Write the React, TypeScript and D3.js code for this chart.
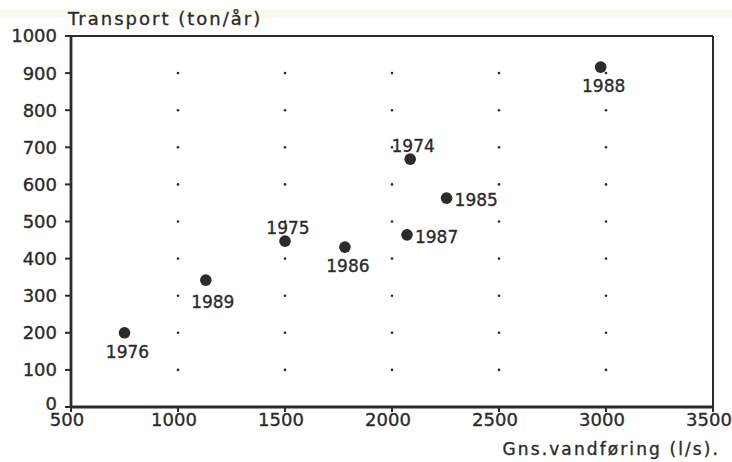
import React from "react";
import * as d3 from "d3";

// Annual mean discharge (l/s) vs. sediment transport (ton/år)
const years = ["1976", "1989", "1975", "1986", "1974", "1987", "1985", "1988"];
const discharge = [750, 1130, 1500, 1780, 2085, 2070, 2255, 2975];
const transport = [200, 342, 447, 431, 668, 464, 563, 916];
// label placement relative to the point
const labelPos = ["below", "belowRight", "above", "below", "above", "right", "right", "below"];

const xTicks = [500, 1000, 1500, 2000, 2500, 3000, 3500];
const yTicks = [0, 100, 200, 300, 400, 500, 600, 700, 800, 900, 1000];
const gridX = [1000, 1500, 2000, 2500, 3000];
const gridY = [100, 200, 300, 400, 500, 600, 700, 800, 900];

const W = 732;
const H = 462;
const ink = "#2b2b2b";
const font = "'DejaVu Sans', sans-serif";

export default function App() {
  const x = d3.scaleLinear().domain([500, 3500]).range([71, 713]);
  const y = d3.scaleLinear().domain([0, 1000]).range([407, 36]);

  const labelAttrs = (p: string, cx: number, cy: number) => {
    switch (p) {
      case "above":
        return { x: cx + 3, y: cy - 7, anchor: "middle" };
      case "below":
        return { x: cx + 3, y: cy + 25, anchor: "middle" };
      case "belowRight":
        return { x: cx + 7, y: cy + 28, anchor: "middle" };
      default:
        return { x: cx + 8, y: cy + 8, anchor: "start" };
    }
  };

  const textStyle = { fill: ink, stroke: ink, strokeWidth: 0.35 };

  return (
    <svg
      width={W}
      height={H}
      style={{ position: "absolute", left: 0, top: 0, background: "#fff" }}
      fontFamily={font}
    >
      <rect x={0} y={0} width={W} height={H} fill="#fff" />
      <rect x={0} y={9} width={W} height={9} fill="#fbfaf1" />

      {/* dotted reference grid */}
      {gridX.map((gx) =>
        gridY.map((gy) => (
          <circle key={`g${gx}-${gy}`} cx={x(gx)} cy={y(gy)} r={1.3} fill={ink} />
        ))
      )}

      {/* frame */}
      <line x1={x(500)} x2={x(3500)} y1={y(1000)} y2={y(1000)} stroke={ink} strokeWidth={2.2} />
      <line x1={x(3500)} x2={x(3500)} y1={y(1000)} y2={y(0)} stroke={ink} strokeWidth={2} />
      <line x1={x(500)} x2={x(3500)} y1={y(0)} y2={y(0)} stroke={ink} strokeWidth={2.8} />
      <line x1={x(500)} x2={x(500)} y1={y(0)} y2={y(1000)} stroke={ink} strokeWidth={2.8} />

      {/* y axis */}
      {yTicks.map((t) => (
        <g key={`y${t}`}>
          <line x1={x(500) - 6} x2={x(500)} y1={y(t)} y2={y(t)} stroke={ink} strokeWidth={2} />
          <text
            x={x(500) - 14}
            y={y(t) - (t === 0 ? 3 : 0)}
            dy="0.36em"
            textAnchor="end"
            fontSize={18}
            {...textStyle}
          >
            {t}
          </text>
        </g>
      ))}

      {/* x axis */}
      {xTicks.map((t) => (
        <g key={`x${t}`}>
          <line x1={x(t)} x2={x(t)} y1={y(0)} y2={y(0) + 5} stroke={ink} strokeWidth={2} />
          <text x={x(t) - 4} y={y(0) + 19} textAnchor="middle" fontSize={18} {...textStyle}>
            {t}
          </text>
        </g>
      ))}

      <text x={68} y={25} fontSize={18} letterSpacing={2} {...textStyle}>
        Transport (ton/år)
      </text>
      <text x={720} y={455} textAnchor="end" fontSize={17} letterSpacing={2.1} {...textStyle}>
        Gns.vandføring (l/s).
      </text>

      {/* observations */}
      {years.map((yr, i) => {
        const cx = x(discharge[i]);
        const cy = y(transport[i]);
        const l = labelAttrs(labelPos[i], cx, cy);
        return (
          <g key={yr}>
            <circle cx={cx} cy={cy} r={5.8} fill={ink} />
            <text x={l.x} y={l.y} textAnchor={l.anchor as any} fontSize={17} {...textStyle}>
              {yr}
            </text>
          </g>
        );
      })}
    </svg>
  );
}
